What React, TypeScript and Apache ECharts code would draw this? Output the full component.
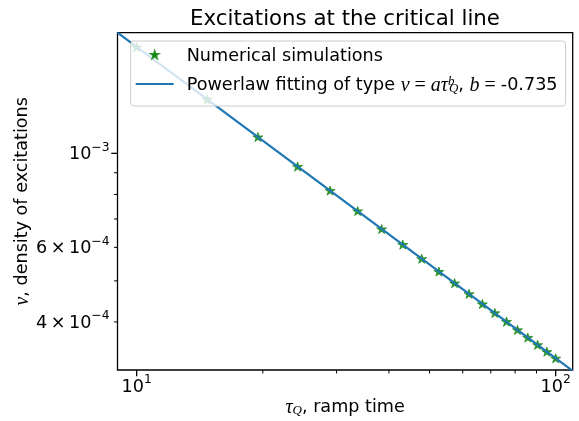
import React, { useEffect, useRef } from 'react';
import * as echarts from 'echarts';

// ---- data ----
const tauValues = [10, 14.74, 19.47, 24.21, 28.95, 33.68, 38.42, 43.16, 47.89, 52.63, 57.37, 62.11, 66.84, 71.58, 76.32, 81.05, 85.79, 90.53, 95.26, 100];
const nuValues = [1.783e-3, 1.341e-3, 1.093e-3, 9.31e-4, 8.17e-4, 7.31e-4, 6.63e-4, 6.09e-4, 5.64e-4, 5.26e-4, 4.94e-4, 4.66e-4, 4.41e-4, 4.2e-4, 4.006e-4, 3.83e-4, 3.674e-4, 3.532e-4, 3.402e-4, 3.283e-4];
const fitTau = [9.0, 109.8];
const fitNu = [1.927e-3, 3.066e-4];

const xRange = [9.0, 109.8];
const yRange = [3.08e-4, 1.927e-3];

const xMajorTicks = [10, 100];
const xMinorTicks = [20, 30, 40, 50, 60, 70, 80, 90];
const xTickLabels = [['10', '1'], ['10', '2']];
const yMajorTicks = [1e-3];
const yMinorTicks = [4e-4, 5e-4, 6e-4, 7e-4, 8e-4, 9e-4];
const yLabelValues = [1e-3, 6e-4, 4e-4];
const yTickLabels = [['10', '\u22123'], ['6\u2009\u00d7\u200910', '\u22124'], ['4\u2009\u00d7\u200910', '\u22124']];

const seriesNames = ['Numerical simulations', 'Powerlaw fitting of type \u03bd=a\u03c4_Q^b, b=-0.735'];

const STAR = 'M0,-10 L2.245,-3.09 L9.51,-3.09 L3.633,1.18 L5.88,8.09 L0,3.82 L-5.88,8.09 L-3.633,1.18 L-9.51,-3.09 L-2.245,-3.09 Z';
const LINE_ICON = 'path://M0,-1.1 L38,-1.1 L38,1.1 L0,1.1 Z';

const SANS = 'DejaVu Sans';
const SERIF = 'Liberation Serif';
const FS = 17.6;

const mathRich = {
  t: { fontFamily: SANS, fontSize: FS, color: '#000' },
  m: { fontFamily: SERIF, fontStyle: 'italic', fontSize: 20, color: '#000' },
  e: { fontFamily: SERIF, fontSize: 20, color: '#000', padding: [0, 5, 0, 5] },
  sub: { fontFamily: SERIF, fontStyle: 'italic', fontSize: 13, color: '#000', verticalAlign: 'bottom', lineHeight: 14 },
  sup: { fontFamily: SERIF, fontStyle: 'italic', fontSize: 13, color: '#000', verticalAlign: 'top', lineHeight: 12, width: 1 },
};

export default function App() {
  const ref = useRef<HTMLDivElement>(null);
  useEffect(() => {
    const chart = echarts.init(ref.current!, null, { renderer: 'svg' });
    const option: any = {
      animation: false,
      title: {
        text: 'Excitations at the critical line',
        left: 340,
        top: 2,
        textAlign: 'center',
        textStyle: { fontFamily: SANS, fontSize: 21.3, fontWeight: 'normal', color: '#000' },
      },
      grid: { left: 117.5, right: 6.3, top: 32.7, bottom: 48.7, show: true, borderColor: '#000', borderWidth: 1.3, backgroundColor: 'transparent' },
      legend: {
        orient: 'vertical',
        left: 130.7,
        top: 41,
        padding: [4, 8, 12, 5],
        itemWidth: 38,
        itemHeight: 14,
        itemGap: 9,
        selectedMode: false,
        backgroundColor: 'rgba(255,255,255,0.8)',
        borderColor: '#cccccc',
        borderWidth: 1,
        borderRadius: 3,
        textStyle: { fontFamily: SANS, fontSize: FS, color: '#000', lineHeight: 20, padding: [0, 0, 0, 8], rich: mathRich },
        data: [
          { name: seriesNames[0], icon: 'path://M-20,-20 M20,20 ' + STAR },
          { name: seriesNames[1], icon: LINE_ICON, itemStyle: { color: '#1f77b4', borderWidth: 0 } },
        ],
        formatter: (name: string) =>
          name === seriesNames[1]
            ? '{t|Powerlaw fitting of type }{m|\u03bd}{e|=}{m|a\u03c4}{sup|b}{sub|Q}{t|, }{m|b}{e|=}{t|-0.735}'
            : name,
      },
      xAxis: {
        type: 'log',
        logBase: 10,
        min: xRange[0],
        max: xRange[1],
        axisLine: { show: false },
        axisTick: { show: false },
        axisLabel: { show: false },
        splitLine: { show: false },
        name: '{m|\u03c4}{sub|Q}{t|, ramp time}',
        nameLocation: 'middle',
        nameGap: 26,
        nameTextStyle: { rich: mathRich },
      },
      yAxis: {
        type: 'log',
        logBase: 10,
        min: yRange[0],
        max: yRange[1],
        axisLine: { show: false },
        axisTick: { show: false },
        axisLabel: { show: false },
        splitLine: { show: false },
        name: '{m|\u03bd}{t|, density of excitations}',
        nameLocation: 'middle',
        nameGap: 87,
        nameTextStyle: { rich: mathRich },
      },
      series: [
        {
          name: seriesNames[0],
          type: 'scatter',
          data: tauValues.map((t, i) => [t, nuValues[i]]),
          symbol: 'path://' + STAR,
          symbolKeepAspect: true,
          symbolSize: [10, 9.6],
          itemStyle: { color: '#008000', borderColor: '#008000', borderWidth: 0.8 },
          z: 2,
        },
        {
          name: seriesNames[1],
          type: 'line',
          data: fitTau.map((t, i) => [t, fitNu[i]]),
          symbol: 'none',
          color: '#1f77b4',
          lineStyle: { color: '#1f77b4', width: 2.2 },
          itemStyle: { color: '#1f77b4', borderWidth: 0 },
          clip: true,
          z: 3,
        },
      ],
    };
    chart.setOption(option);

    const toPx = (x: number, y: number) => chart.convertToPixel({ gridIndex: 0 }, [x, y]) as number[];
    const corner = toPx(xRange[0], yRange[0]);
    const left = corner[0];
    const bottom = corner[1];
    const g: any[] = [];
    const tickLine = (x1: number, y1: number, x2: number, y2: number, w: number) =>
      g.push({ type: 'line', shape: { x1, y1, x2, y2 }, style: { stroke: '#000', lineWidth: w }, z: 10 });
    xMajorTicks.forEach((v) => { const x = toPx(v, yRange[0])[0]; tickLine(x, bottom, x, bottom + 6.2, 1.3); });
    xMinorTicks.forEach((v) => { const x = toPx(v, yRange[0])[0]; tickLine(x, bottom, x, bottom + 3.5, 1); });
    yMajorTicks.forEach((v) => { const y = toPx(xRange[0], v)[1]; tickLine(left - 6.2, y, left, y, 1.3); });
    yMinorTicks.forEach((v) => { const y = toPx(xRange[0], v)[1]; tickLine(left - 3.5, y, left, y, 1); });
    const labelRich = {
      b: { fontFamily: SANS, fontSize: FS, lineHeight: 25 },
      s: { fontFamily: SANS, fontSize: 12.3, lineHeight: 12, verticalAlign: 'top' },
    };
    xMajorTicks.forEach((v, i) => {
      const x = toPx(v, yRange[0])[0];
      g.push({
        type: 'text', x, y: bottom + 3, z: 10,
        style: { text: '{b|' + xTickLabels[i][0] + '}{s|' + xTickLabels[i][1] + '}', rich: labelRich, fill: '#000', textAlign: 'center', textVerticalAlign: 'top' },
      });
    });
    yLabelValues.forEach((v, i) => {
      const y = toPx(xRange[0], v)[1];
      g.push({
        type: 'text', x: left - 8, y, z: 10,
        style: { text: '{b|' + yTickLabels[i][0] + '}{s|' + yTickLabels[i][1] + '}', rich: labelRich, fill: '#000', textAlign: 'right', textVerticalAlign: 'middle' },
      });
    });
    chart.setOption({ graphic: g });

    return () => chart.dispose();
  }, []);
  return <div ref={ref} style={{ position: 'fixed', left: 0, top: 0, width: 579, height: 421 }} />;
}
